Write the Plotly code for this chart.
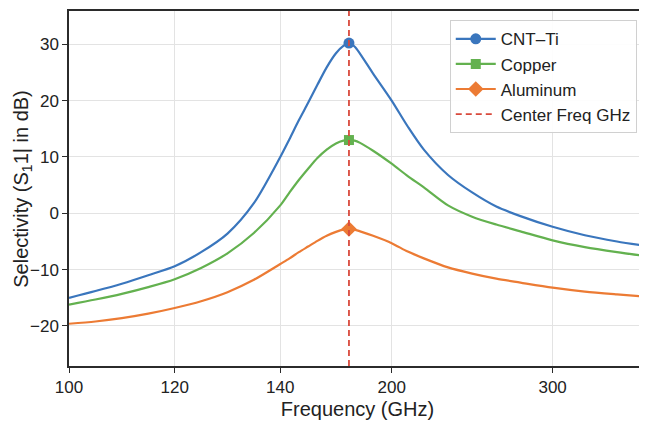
import numpy as np
import plotly.graph_objects as go

# =============================================================================
# DATA
# =============================================================================

freq_ghz = [100, 105, 110, 115, 120, 125, 130, 135, 140, 145, 150, 155, 160, 165, 170,
            174, 177, 180, 183, 190, 200, 210, 220, 235, 250, 265, 280, 300, 320, 340, 358]

cnt_ti = [-15.0, -13.8, -12.5, -11.0, -9.4, -6.9, -3.6, 1.8, 10.0, 13.2, 16.5, 19.6, 22.8,
          25.9, 28.4, 29.7, 30.2, 29.6, 28.3, 24.8, 20.0, 15.4, 11.3, 6.8, 3.7, 1.2, -0.5,
          -2.4, -3.9, -5.0, -5.8]
copper = [-16.2, -15.3, -14.3, -13.1, -11.7, -9.7, -7.1, -3.5, 1.4, 3.7, 5.9, 7.9, 9.8,
          11.3, 12.4, 12.9, 13.0, 12.9, 12.5, 11.1, 8.8, 6.6, 4.6, 1.4, -0.6, -2.0, -3.2,
          -4.8, -6.0, -6.9, -7.6]
aluminum = [-19.6, -19.2, -18.6, -17.8, -16.8, -15.6, -14.0, -11.8, -9.0, -8.0, -6.9, -5.9,
            -4.9, -4.0, -3.3, -2.9, -2.8, -2.9, -3.2, -4.0, -5.3, -6.8, -8.0, -9.6, -10.7,
            -11.6, -12.3, -13.2, -13.9, -14.4, -14.8]

center_freq = 177

tick_freqs = [100, 120, 140, 200, 300]
tick_labels = ['100', '120', '140', '200', '300']

# the frequency axis in the reference is stretched piecewise between its ticks
warp_freqs = [100, 120, 140, 200, 300, 360]
warp_pos = [0.0, 105.7, 211.3, 322.7, 483.7, 580.3]

x_span = [100, 358]
y_span = [-27.1, 35.9]

# =============================================================================
# STYLE
# =============================================================================

colors = {'cnt': '#3a76bd', 'cu': '#63b14f', 'al': '#ec7b34', 'center': '#d94a3d'}
font = 'Liberation Sans, Arial, sans-serif'
text_color = '#222222'


def to_axis(f):
    return np.interp(f, warp_freqs, warp_pos)


x_pos = to_axis(freq_ghz)
i_peak = freq_ghz.index(center_freq)

fig = go.Figure()

series = [
    ('CNT–Ti', cnt_ti, colors['cnt'], 'circle', 11),
    ('Copper', copper, colors['cu'], 'square', 10),
    ('Aluminum', aluminum, colors['al'], 'diamond', 12),
]

for name, values, color, symbol, size in series:
    fig.add_trace(go.Scatter(x=x_pos, y=values, mode='lines',
                             line=dict(color=color, width=2.2, shape='spline', smoothing=0.8),
                             legendgroup=name, showlegend=False, hoverinfo='skip'))
    fig.add_trace(go.Scatter(x=[x_pos[i_peak]], y=[values[i_peak]], mode='lines+markers', name=name,
                             legendgroup=name, line=dict(color=color, width=2.2),
                             marker=dict(symbol=symbol, size=size, color=color)))

fig.add_trace(go.Scatter(x=to_axis([center_freq, center_freq]), y=y_span, mode='lines', name='Center Freq GHz',
                         line=dict(color=colors['center'], width=1.8, dash='6px,4px')))

axis_common = dict(showline=True, linecolor='#2b2b2b', linewidth=1.5, mirror=True,
                   ticks='outside', ticklen=5, tickwidth=1.2, tickcolor='#2b2b2b',
                   showgrid=True, gridcolor='#e3e3e3', gridwidth=1, zeroline=False,
                   automargin=False,
                   tickfont=dict(size=17, color=text_color, family=font))

fig.update_xaxes(range=list(to_axis(x_span)), tickvals=to_axis(tick_freqs), ticktext=tick_labels,
                 title=dict(text='Frequency (GHz)', font=dict(size=20, color=text_color, family=font), standoff=6),
                 **axis_common)
fig.update_yaxes(range=y_span, tickvals=[-20, -10, 0, 10, 20, 30],
                 ticktext=['−20', '−10', '0', '10', '20', '30'],
                 **axis_common)

# y title as an annotation so it can sit close to the tick labels like the reference
fig.add_annotation(text='Selectivity (S<sub>1</sub>1| in dB)', textangle=-90,
                   xref='paper', yref='paper', x=-0.081, y=0.50, xanchor='center', yanchor='middle',
                   showarrow=False, font=dict(size=20, color=text_color, family=font))

# the page body adds an 8px offset, so the figure is sized to fit inside the window
fig.update_layout(
    width=639, height=415,
    margin=dict(l=61, r=1, t=3, b=57),
    plot_bgcolor='white', paper_bgcolor='white',
    font=dict(family=font, color=text_color),
    legend=dict(x=0.984, y=0.974, xanchor='right', yanchor='top',
                bgcolor='rgba(255,255,255,0.9)', bordercolor='#d0d0d0', borderwidth=1,
                font=dict(size=17, family=font, color=text_color), itemwidth=40,
                tracegroupgap=0),
)

fig.write_html("out.html")
